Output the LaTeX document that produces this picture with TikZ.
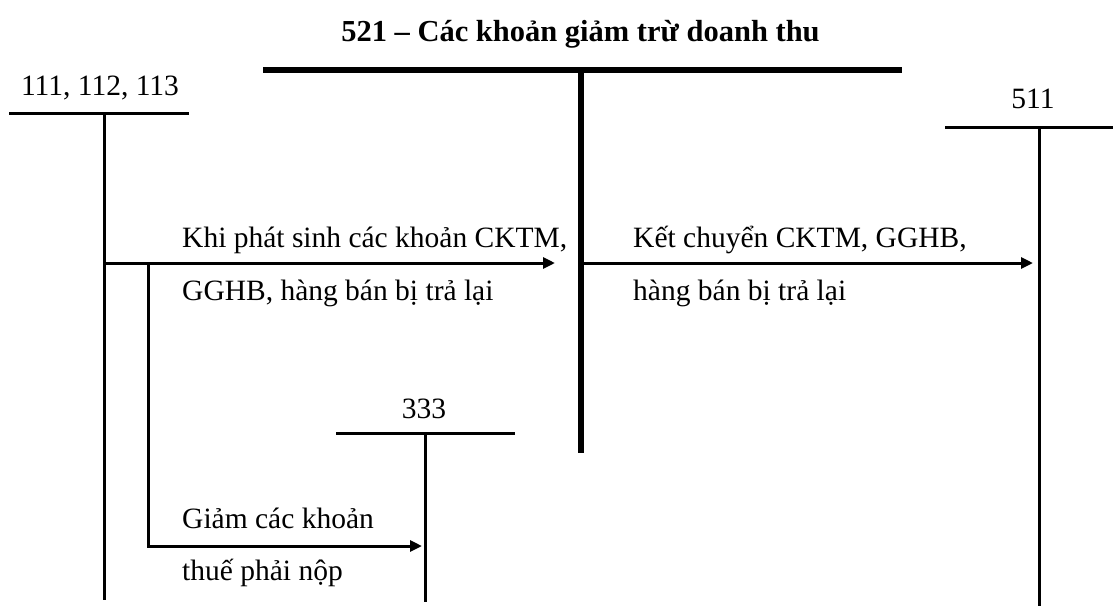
\documentclass[tikz,border=0pt]{standalone}
\usepackage{fontspec}
\setmainfont{Liberation Serif}
\usetikzlibrary{arrows.meta}
\begin{document}
\begin{tikzpicture}[x=1pt,y=-1pt,
  acct/.style={line width=3pt},
  mainacct/.style={line width=6pt},
  flow/.style={line width=3pt,-{Triangle[length=12pt,width=11pt]}},
  lbl/.style={inner sep=0pt,anchor=base,font=\fontsize{29.5}{34}\selectfont},
  titlelbl/.style={inner sep=0pt,anchor=base,font=\fontsize{30.5}{36}\selectfont\bfseries},
  note/.style={inner sep=0pt,anchor=base west,font=\fontsize{29.5}{34}\selectfont},
]
\useasboundingbox (0,0) rectangle (1113,606);

% Account 521 (main T-account)
\node[titlelbl] (title) at (580.5,41) {521 – Các khoản giảm trừ doanh thu};
\coordinate (m521l) at (263,70);
\coordinate (m521r) at (902,70);
\coordinate (t521) at (581,70);
\coordinate (b521) at (581,453);
\draw[mainacct] (m521l) -- (m521r);
\draw[mainacct] (t521) -- (b521);

% Account 111, 112, 113
\node[lbl] (a111) at (100,95) {111, 112, 113};
\coordinate (h111l) at (9,113);
\coordinate (h111r) at (189,113);
\coordinate (t111) at (104,113);
\coordinate (b111) at (104,600);
\draw[acct] (h111l) -- (h111r);
\draw[acct] (t111) -- (b111);

% Account 511
\node[lbl] (a511) at (1033,108) {511};
\coordinate (h511l) at (945,127);
\coordinate (h511r) at (1113,127);
\coordinate (t511) at (1039,127);
\coordinate (b511) at (1039,606);
\draw[acct] (h511l) -- (h511r);
\draw[acct] (t511) -- (b511);

% Account 333
\node[lbl] (a333) at (424,418) {333};
\coordinate (h333l) at (336,433);
\coordinate (h333r) at (515,433);
\coordinate (t333) at (425,433);
\coordinate (b333) at (425,602);
\draw[acct] (h333l) -- (h333r);
\draw[acct] (t333) -- (b333);

% Entries
\coordinate (j1) at (104,263);
\coordinate (e1) at (555,263);
\draw[flow] (j1) -- (e1);
\node[note] (n1a) at (182,247) {Khi phát sinh các khoản CKTM,};
\node[note] (n1b) at (182,300) {GGHB, hàng bán bị trả lại};

\coordinate (j2) at (581,263);
\coordinate (e2) at (1033,263);
\draw[flow] (j2) -- (e2);
\node[note] (n2a) at (633,247) {Kết chuyển CKTM, GGHB,};
\node[note] (n2b) at (633,300) {hàng bán bị trả lại};

\coordinate (j3) at (148,263);
\coordinate (e3) at (422,546);
\draw[flow] (j3) |- (e3);
\node[note] (n3a) at (182,528) {Giảm các khoản};
\node[note] (n3b) at (182,580) {thuế phải nộp};
\end{tikzpicture}
\end{document}
